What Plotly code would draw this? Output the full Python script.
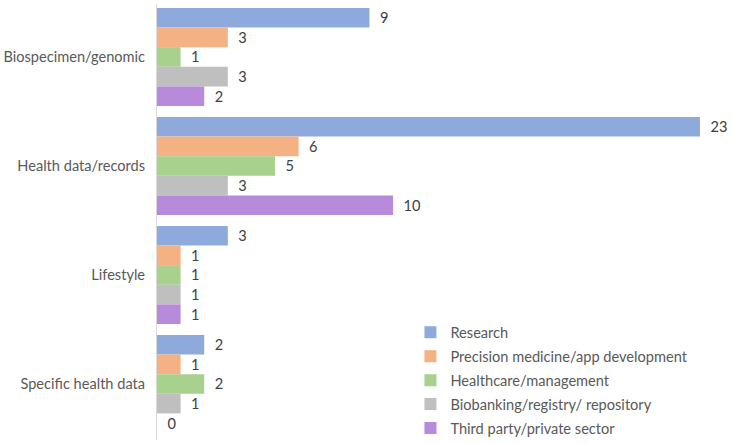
import plotly.graph_objects as go

categories = ["Biospecimen/genomic", "Health data/records", "Lifestyle", "Specific health data"]
series_names = ["Research", "Precision medicine/app development", "Healthcare/management",
                "Biobanking/registry/ repository", "Third party/private sector"]
research = [9, 23, 3, 2]
precision = [3, 6, 1, 1]
healthcare = [1, 5, 1, 2]
biobanking = [3, 3, 1, 1]
third_party = [2, 10, 1, 0]

values = [research, precision, healthcare, biobanking, third_party]
colors = ["#8eaadc", "#f4b183", "#a9d18e", "#bfbfbf", "#b88adc"]

fig = go.Figure()
for name, vals, col in zip(series_names, values, colors):
    fig.add_trace(go.Bar(
        y=categories, x=vals, name=name, orientation="h", legendgroup=name,
        marker=dict(color=col, line=dict(width=0)),
        text=["  " + str(v) for v in vals], textposition="outside",
        textfont=dict(color="#404040", size=14.6, family="Lato"),
        cliponaxis=False,
    ))

fig.update_layout(
    width=733, height=444,
    margin=dict(l=157, r=0, t=4, b=4, autoexpand=False),
    barmode="group", bargap=0.1, bargroupgap=0,
    plot_bgcolor="white", paper_bgcolor="white",
    font=dict(family="Lato", size=14.6, color="#595959"),
    showlegend=True,
    legend=dict(x=0.44, y=0.284, xanchor="left", yanchor="top", traceorder="grouped",
                font=dict(size=14.6, color="#595959"), tracegroupgap=2,
                itemwidth=30, bgcolor="rgba(0,0,0,0)"),
)
fig.update_xaxes(range=[0, 24.4], showticklabels=False, showgrid=False, zeroline=False,
                 showline=False, ticks="", automargin=False)
fig.update_yaxes(range=[3.514, -0.486], showgrid=False, showline=True, linecolor="#d9d9d9",
                 linewidth=1, ticks="", ticklabelstandoff=8, automargin=False)

fig.write_html("out.html", config={"displayModeBar": False},
               post_script="document.body.style.margin='0';")
